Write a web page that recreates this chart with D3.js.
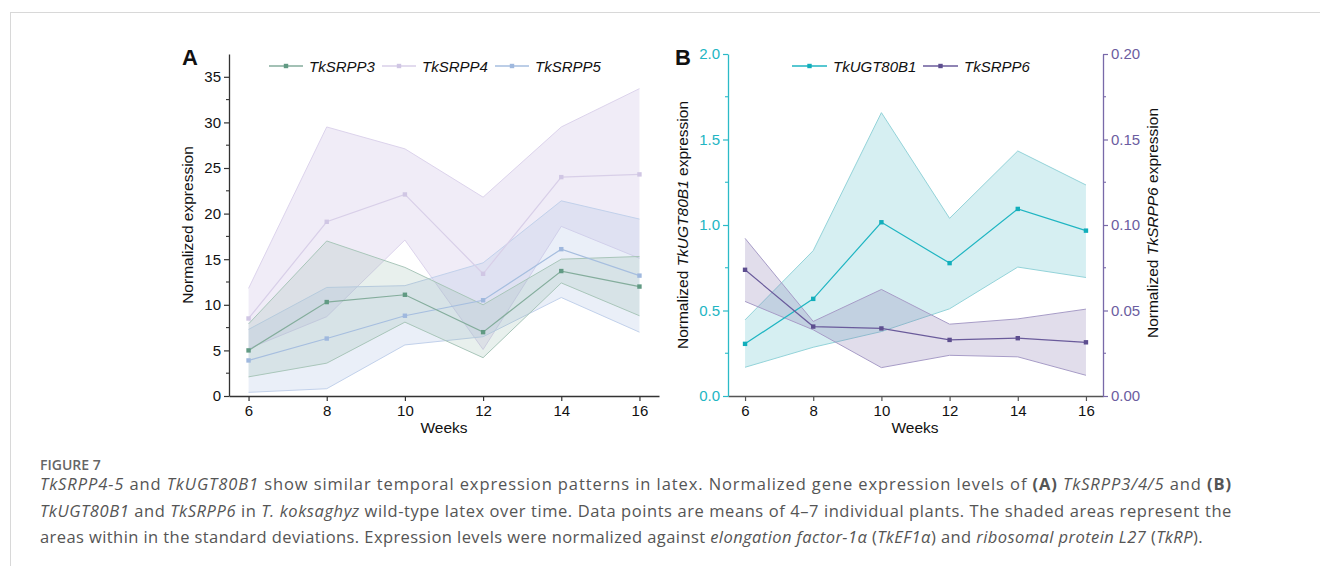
<!DOCTYPE html>
<html><head><meta charset="utf-8">
<script src="https://cdn.jsdelivr.net/npm/d3@7/dist/d3.min.js"></script>
<style>
body{margin:0;background:#fff;}
svg{display:block;}
</style></head>
<body>
<svg id="c" width="1320" height="566"></svg>
<script>
// ---------- data ----------
const weeks = [6, 8, 10, 12, 14, 16];
const xTicks = [6, 8, 10, 12, 14, 16];

// Panel A
const srpp3Mean  = [5.0, 10.3, 11.1, 7.0, 13.7, 12.0];
const srpp3Upper = [7.9, 17.0, 14.1, 10.0, 15.0, 15.3];
const srpp3Lower = [2.1, 3.6, 8.1, 4.2, 12.4, 8.8];

const srpp4Mean  = [8.5, 19.1, 22.1, 13.4, 24.0, 24.3];
const srpp4Upper = [11.8, 29.5, 27.1, 21.8, 29.5, 33.7];
const srpp4Lower = [5.2, 8.7, 17.1, 5.1, 18.6, 15.1];

const srpp5Mean  = [3.9, 6.3, 8.8, 10.5, 16.1, 13.2];
const srpp5Upper = [7.3, 11.9, 12.1, 14.6, 21.4, 19.4];
const srpp5Lower = [0.4, 0.8, 5.6, 6.5, 10.8, 7.0];

const yTicksA = [0, 5, 10, 15, 20, 25, 30, 35];

// Panel B
const ugtMean  = [0.305, 0.568, 1.016, 0.777, 1.094, 0.967];
const ugtUpper = [0.445, 0.85, 1.657, 1.039, 1.433, 1.234];
const ugtLower = [0.168, 0.285, 0.377, 0.51, 0.754, 0.693];

const srpp6Mean  = [0.0738, 0.0406, 0.0395, 0.0328, 0.0338, 0.0314];
const srpp6Upper = [0.0922, 0.0436, 0.0623, 0.042, 0.0451, 0.0508];
const srpp6Lower = [0.0553, 0.0387, 0.0166, 0.0238, 0.0229, 0.0121];

const yTicksBL = [0.0, 0.5, 1.0, 1.5, 2.0];
const yTicksBR = [0.00, 0.05, 0.10, 0.15, 0.20];

// ---------- drawing ----------
const svg = d3.select('#c');
const FONT = "'Liberation Sans', Arial, sans-serif";

// frame
svg.append('line').attr('x1',10).attr('y1',12.5).attr('x2',1320).attr('y2',12.5).attr('stroke','#d8d8d8').attr('stroke-width',1);
svg.append('line').attr('x1',10.5).attr('y1',12).attr('x2',10.5).attr('y2',566).attr('stroke','#d8d8d8').attr('stroke-width',1);

function styleAxis(g, color, textColor){
  g.select('.domain').attr('stroke', color).attr('stroke-width',1.3);
  g.selectAll('.tick line').attr('stroke', color).attr('stroke-width',1.2);
  g.selectAll('.tick text').attr('fill', textColor).style('font-family',FONT).style('font-size','15px');
}
function minorTicks(g, scale, vals, orient, len, color){
  vals.forEach(v=>{
    const y = scale(v);
    g.append('line').attr('x1',0).attr('x2', orient==='left'? -len : len)
      .attr('y1',y).attr('y2',y).attr('stroke',color).attr('stroke-width',1.1);
  });
}

function band(g, x, y, up, lo, fill, fillOp, stroke){
  const data = weeks.map((w,i)=>({w, u:up[i], l:lo[i]}));
  const area = d3.area().x(d=>x(d.w)).y0(d=>y(d.l)).y1(d=>y(d.u));
  g.append('path').datum(data).attr('d',area).attr('fill',fill).attr('fill-opacity',fillOp);
  const lu = d3.line().x(d=>x(d.w)).y(d=>y(d.u));
  const ll = d3.line().x(d=>x(d.w)).y(d=>y(d.l));
  g.append('path').datum(data).attr('d',lu).attr('fill','none').attr('stroke',stroke).attr('stroke-width',1);
  g.append('path').datum(data).attr('d',ll).attr('fill','none').attr('stroke',stroke).attr('stroke-width',1);
}
function meanLine(g, x, y, vals, color, mcolor){
  const data = weeks.map((w,i)=>({w, v:vals[i]}));
  g.append('path').datum(data).attr('d', d3.line().x(d=>x(d.w)).y(d=>y(d.v)))
    .attr('fill','none').attr('stroke',color).attr('stroke-width',1.2);
  g.selectAll(null).data(data).enter().append('rect')
    .attr('x',d=>x(d.w)-2.2).attr('y',d=>y(d.v)-2.2).attr('width',4.4).attr('height',4.4)
    .attr('fill',mcolor);
}
function legendItem(g, x1, x2, y, color, mcolor, label){
  g.append('line').attr('x1',x1).attr('x2',x2).attr('y1',y).attr('y2',y).attr('stroke',color).attr('stroke-width',1.3);
  g.append('rect').attr('x',(x1+x2)/2-2.2).attr('y',y-2.2).attr('width',4.4).attr('height',4.4).attr('fill',mcolor);
  g.append('text').attr('x',x2+6).attr('y',y+5.5).text(label)
    .style('font-family',FONT).style('font-size','15px').style('font-style','italic').attr('fill','#111');
}

// ===== Panel A =====
const xA = d3.scaleLinear().domain([5.5,16.5]).range([229,659]);
const yA = d3.scaleLinear().domain([0,37.5]).range([396,54]);
const gA = svg.append('g');

const c3 = {line:'#84ad9c', marker:'#619a83', fill:'#8db3a3', stroke:'#a9c6ba'};
const c4 = {line:'#d8cfe8', marker:'#d0c6e4', fill:'#cfc3e6', stroke:'#dcd3ec'};
const c5 = {line:'#a6bedf', marker:'#9fb8de', fill:'#b5c7e6', stroke:'#c2d1eb'};

band(gA, xA, yA, srpp4Upper, srpp4Lower, c4.fill, 0.32, c4.stroke);
band(gA, xA, yA, srpp5Upper, srpp5Lower, c5.fill, 0.28, c5.stroke);
band(gA, xA, yA, srpp3Upper, srpp3Lower, c3.fill, 0.2, c3.stroke);
meanLine(gA, xA, yA, srpp4Mean, c4.line, c4.marker);
meanLine(gA, xA, yA, srpp5Mean, c5.line, c5.marker);
meanLine(gA, xA, yA, srpp3Mean, c3.line, c3.marker);

const axAx = gA.append('g').attr('transform','translate(0,396)')
  .call(d3.axisBottom(xA).tickValues(xTicks).tickSize(5).tickSizeOuter(0).tickPadding(4));
styleAxis(axAx, '#333', '#111');
const axAy = gA.append('g').attr('transform','translate(229,0)')
  .call(d3.axisLeft(yA).tickValues(yTicksA).tickSize(5).tickSizeOuter(0).tickPadding(3));
styleAxis(axAy, '#333', '#111');
minorTicks(axAy, yA, [2.5,7.5,12.5,17.5,22.5,27.5,32.5], 'left', 3, '#333');

gA.append('text').attr('transform','translate(193,225) rotate(-90)').attr('text-anchor','middle')
  .text('Normalized expression').style('font-family',FONT).style('font-size','15.5px').attr('fill','#111');
gA.append('text').attr('x',444).attr('y',433).attr('text-anchor','middle')
  .text('Weeks').style('font-family',FONT).style('font-size','15.5px').attr('fill','#111');
gA.append('text').attr('x',182).attr('y',65).text('A')
  .style('font-family',FONT).style('font-size','22px').style('font-weight','bold').attr('fill','#111');

legendItem(gA, 269, 303, 66, c3.line, c3.marker, 'TkSRPP3');
legendItem(gA, 382, 416, 66, c4.line, c4.marker, 'TkSRPP4');
legendItem(gA, 495, 529, 66, c5.line, c5.marker, 'TkSRPP5');

// ===== Panel B =====
const xB = d3.scaleLinear().domain([5.5,16.5]).range([728,1103]);
const yBL = d3.scaleLinear().domain([0,2]).range([396,54]);
const yBR = d3.scaleLinear().domain([0,0.2]).range([396,54]);
const gB = svg.append('g');

const cU = {line:'#1fb5c2', marker:'#12aebb', fill:'#3db3c0', stroke:'#93d3d9'};
const c6 = {line:'#6a5b9b', marker:'#5d4e8f', fill:'#8678b0', stroke:'#a79cc7'};

band(gB, xB, yBL, ugtUpper, ugtLower, cU.fill, 0.21, cU.stroke);
band(gB, xB, yBR, srpp6Upper, srpp6Lower, c6.fill, 0.25, c6.stroke);
meanLine(gB, xB, yBL, ugtMean, cU.line, cU.marker);
meanLine(gB, xB, yBR, srpp6Mean, c6.line, c6.marker);

const axBx = gB.append('g').attr('transform','translate(0,396)')
  .call(d3.axisBottom(xB).tickValues(xTicks).tickSize(5).tickSizeOuter(0).tickPadding(4));
styleAxis(axBx, '#555', '#111');
const axBl = gB.append('g').attr('transform','translate(728,0)')
  .call(d3.axisLeft(yBL).tickValues(yTicksBL).tickSize(5).tickSizeOuter(0).tickPadding(3).tickFormat(d3.format('.1f')));
styleAxis(axBl, '#2bbac7', '#22b5c3');
minorTicks(axBl, yBL, [0.25,0.75,1.25,1.75], 'left', 3, '#2bbac7');
const axBr = gB.append('g').attr('transform','translate(1103,0)')
  .call(d3.axisRight(yBR).tickValues(yTicksBR).tickSize(5).tickSizeOuter(0).tickPadding(3).tickFormat(d3.format('.2f')));
styleAxis(axBr, '#7869a9', '#6b5da0');
minorTicks(axBr, yBR, [0.025,0.075,0.125,0.175], 'right', 3, '#7869a9');

const tl = gB.append('text').attr('transform','translate(688,225) rotate(-90)').attr('text-anchor','middle')
  .style('font-family',FONT).style('font-size','15.5px').attr('fill','#111');
tl.append('tspan').text('Normalized ');
tl.append('tspan').text('TkUGT80B1').style('font-style','italic');
tl.append('tspan').text(' expression');
const tr = gB.append('text').attr('transform','translate(1158,223) rotate(-90)').attr('text-anchor','middle')
  .style('font-family',FONT).style('font-size','15.5px').attr('fill','#111');
tr.append('tspan').text('Normalized ');
tr.append('tspan').text('TkSRPP6').style('font-style','italic');
tr.append('tspan').text(' expression');

gB.append('text').attr('x',915).attr('y',433).attr('text-anchor','middle')
  .text('Weeks').style('font-family',FONT).style('font-size','15.5px').attr('fill','#111');
gB.append('text').attr('x',675).attr('y',65).text('B')
  .style('font-family',FONT).style('font-size','22px').style('font-weight','bold').attr('fill','#111');

legendItem(gB, 792, 827, 66, cU.line, cU.marker, 'TkUGT80B1');
legendItem(gB, 923, 958, 66, c6.line, c6.marker, 'TkSRPP6');

// ===== Caption =====
const CF = "'Open Sans', sans-serif";
svg.append('text').attr('x',40).attr('y',470).text('FIGURE 7')
  .style('font-family',CF).style('font-size','14px').style('font-weight','600').attr('fill','#666');

const captionLines = [
  [['TkSRPP4-5','i'],[' and ',''],['TkUGT80B1','i'],[' show similar temporal expression patterns in latex. Normalized gene expression levels of ',''],['(A)','b'],[' ',''],['TkSRPP3/4/5','i'],[' and ',''],['(B)','b']],
  [['TkUGT80B1','i'],[' and ',''],['TkSRPP6','i'],[' in ',''],['T. koksaghyz','i'],[' wild-type latex over time. Data points are means of 4–7 individual plants. The shaded areas represent the','']],
  [['areas within in the standard deviations. Expression levels were normalized against ',''],['elongation factor-1α','i'],[' (',''],['TkEF1α','i'],[') and ',''],['ribosomal protein L27','i'],[' (',''],['TkRP','i'],[').','']]
];
const capY = [490, 516.5, 543];
const capW = [1192, 1192, 1163];
captionLines.forEach((parts,i)=>{
  const t = svg.append('text').attr('x',40).attr('y',capY[i])
    .style('font-family',CF).style('font-size','16.5px').attr('fill','#555').attr('xml:space','preserve');
  parts.forEach(([s,f])=>{
    const sp = t.append('tspan').text(s);
    if(f==='i') sp.style('font-style','italic');
    if(f==='b') sp.style('font-weight','bold');
  });
  const natural = t.node().getComputedTextLength();
  const n = parts.map(p=>p[0]).join('').length;
  t.style('letter-spacing', ((capW[i]-natural)/n).toFixed(3)+'px');
});
</script>
</body></html>
